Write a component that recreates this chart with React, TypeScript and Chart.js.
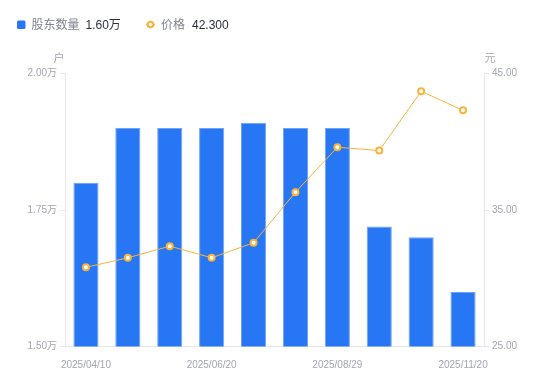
import React, { useEffect, useRef } from "react";
import { Chart, registerables } from "chart.js";

Chart.register(...registerables);

const categories = [
  "2025/04/10", "2025/04/30", "2025/05/20", "2025/06/20", "2025/07/10",
  "2025/07/31", "2025/08/29", "2025/09/30", "2025/10/31", "2025/11/20",
];
const holders = [1.80, 1.90, 1.90, 1.90, 1.91, 1.90, 1.90, 1.72, 1.70, 1.60];
const prices = [30.8, 31.5, 32.35, 31.5, 32.6, 36.3, 39.6, 39.35, 43.7, 42.3];
const leftTicks = [1.5, 1.75, 2.0];
const rightTicks = [25, 35, 45];
const shownLabelIdx = [0, 3, 6, 9];

const FONT = "'Liberation Sans', 'Noto Sans CJK SC', sans-serif";
const BLUE = "#2777F5";
const ORANGE = "#F8B43A";
const GREY = "#A3A6B4";

const overlay = {
  id: "overlay",
  afterDraw(chart: any) {
    const ctx = chart.ctx;
    const area = chart.chartArea;
    ctx.save();
    ctx.font = `11px ${FONT}`;
    ctx.fillStyle = GREY;
    ctx.textBaseline = "middle";
    ctx.textAlign = "center";
    ctx.fillText("户", area.left - 6, area.top - 14.5);
    ctx.fillText("元", area.right + 6, area.top - 14.5);
    const y = 26;
    ctx.textAlign = "left";
    ctx.fillStyle = BLUE;
    ctx.beginPath();
    (ctx as any).roundRect ? ctx.roundRect(17, 20.5, 8.5, 8.5, 1.5) : ctx.rect(17, 20.5, 8.5, 8.5);
    ctx.fill();
    ctx.font = `12px ${FONT}`;
    ctx.fillStyle = "#80838F";
    ctx.fillText("股东数量", 31.5, y);
    let x = 31.5 + ctx.measureText("股东数量").width + 6;
    ctx.fillStyle = "#2B2F3A";
    ctx.fillText(holders[holders.length - 1].toFixed(2) + "万", x, y);

    ctx.strokeStyle = ORANGE;
    ctx.lineWidth = 1.5;
    ctx.beginPath();
    ctx.moveTo(146, 24.5);
    ctx.lineTo(155, 24.5);
    ctx.stroke();
    ctx.beginPath();
    ctx.arc(150.5, 24.5, 2.8, 0, Math.PI * 2);
    ctx.fillStyle = "#fff";
    ctx.fill();
    ctx.lineWidth = 2;
    ctx.stroke();
    ctx.fillStyle = "#80838F";
    ctx.fillText("价格", 161, y);
    x = 161 + ctx.measureText("价格").width + 7;
    ctx.fillStyle = "#2B2F3A";
    ctx.fillText(prices[prices.length - 1].toFixed(3), x, y);
    ctx.restore();
  },
};

export default function App() {
  const ref = useRef<HTMLCanvasElement | null>(null);
  useEffect(() => {
    if (!ref.current) return;
    const chart = new Chart(ref.current, {
      type: "bar",
      data: {
        labels: categories,
        datasets: [
          {
            type: "line",
            label: "价格",
            data: prices,
            yAxisID: "y1",
            borderColor: ORANGE,
            borderWidth: 1,
            pointRadius: 3,
            pointBorderWidth: 2,
            pointBackgroundColor: "#fff",
            pointBorderColor: ORANGE,
            tension: 0,
            order: 0,
          } as any,
          {
            type: "bar",
            label: "股东数量",
            data: holders,
            yAxisID: "y",
            backgroundColor: BLUE,
            borderColor: "#6FA3F7",
            borderWidth: 1,
            categoryPercentage: 1,
            barPercentage: 0.6,
            order: 1,
          } as any,
        ],
      },
      options: {
        animation: false,
        responsive: false,
        maintainAspectRatio: false,
        layout: { padding: { top: 73.5, left: 0, right: 0, bottom: 0 } },
        plugins: { legend: { display: false }, tooltip: { enabled: false } },
        scales: {
          x: {
            offset: true,
            grid: { display: false },
            border: { display: true, color: "#E6E7EB" },
            ticks: {
              autoSkip: false,
              maxRotation: 0,
              padding: 5,
              color: GREY,
              font: { size: 10, family: FONT },
              callback: (_v: any, i: number) => (shownLabelIdx.includes(i) ? categories[i] : ""),
            },
            afterFit: (s: any) => { s.height = 34.5; },
          },
          y: {
            position: "left",
            min: leftTicks[0],
            max: leftTicks[leftTicks.length - 1],
            afterBuildTicks: (s: any) => { s.ticks = leftTicks.map((v) => ({ value: v })); },
            grid: { drawOnChartArea: false, drawTicks: true, tickLength: 5, color: "#E6E7EB" },
            border: { display: true, color: "#E6E7EB" },
            ticks: {
              padding: 3,
              color: GREY,
              font: { size: 10, family: FONT },
              callback: (v: any) => Number(v).toFixed(2) + "万",
            },
            afterFit: (s: any) => { s.width = 65; },
          },
          y1: {
            position: "right",
            min: rightTicks[0],
            max: rightTicks[rightTicks.length - 1],
            afterBuildTicks: (s: any) => { s.ticks = rightTicks.map((v) => ({ value: v })); },
            grid: { drawOnChartArea: false, drawTicks: true, tickLength: 5, color: "#E6E7EB" },
            border: { display: true, color: "#E6E7EB" },
            ticks: {
              padding: 3,
              color: GREY,
              font: { size: 10, family: FONT },
              callback: (v: any) => Number(v).toFixed(2),
            },
            afterFit: (s: any) => { s.width = 66; },
          },
        },
      } as any,
      plugins: [overlay],
    });
    return () => chart.destroy();
  }, []);
  return (
    <div style={{ position: "fixed", left: 0, top: 0, width: 550, height: 381, background: "#fff" }}>
      <canvas ref={ref} width={550} height={381} style={{ display: "block", width: 550, height: 381 }} />
    </div>
  );
}
